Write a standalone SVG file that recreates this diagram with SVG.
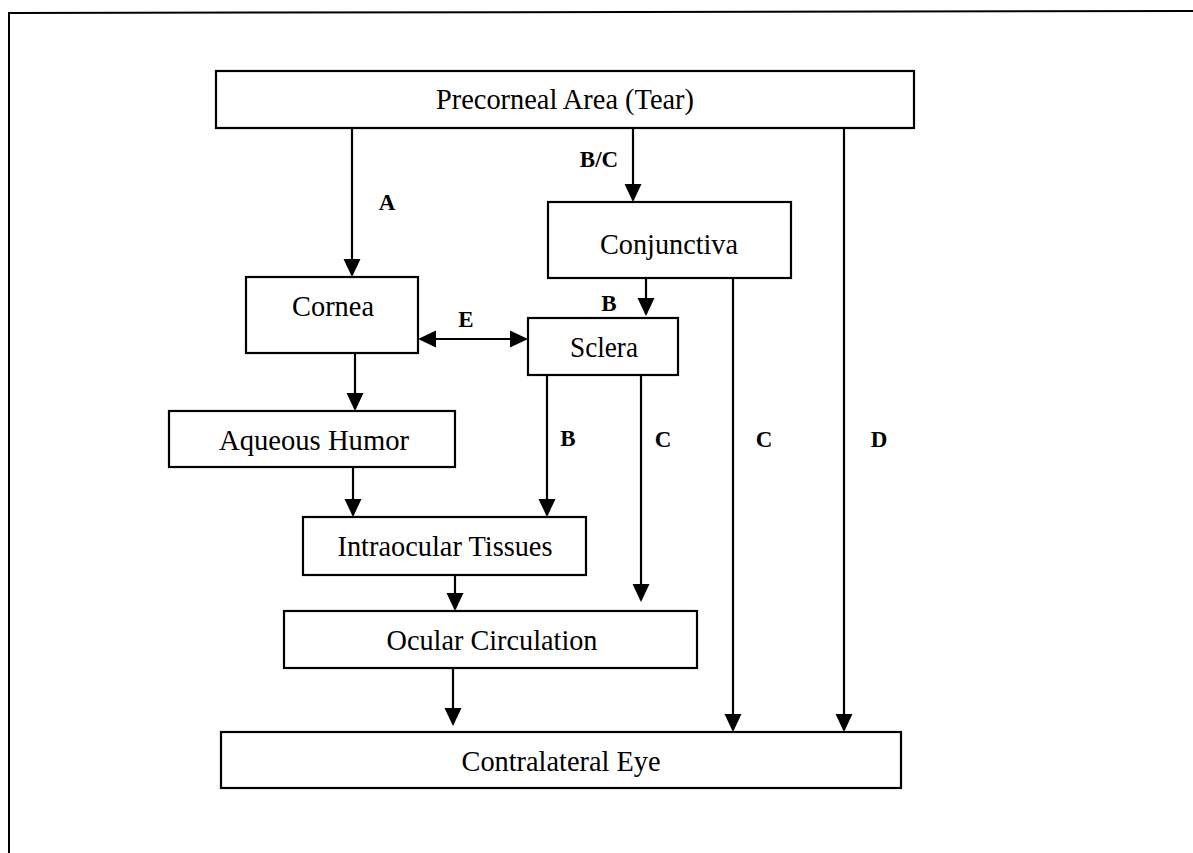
<svg xmlns="http://www.w3.org/2000/svg" width="1193" height="853" viewBox="0 0 1193 853">
<defs>
<style>
.box{fill:#fff;stroke:#000;stroke-width:2.2}
.t{font-family:"Liberation Serif","Times New Roman",serif;font-size:30px;fill:#000;text-anchor:middle}
.lbl{font-family:"Liberation Serif","Times New Roman",serif;font-size:23px;font-weight:bold;fill:#000;text-anchor:middle}
.c{stroke:#000;stroke-width:2.2;fill:none;marker-end:url(#ah)}
</style>
<marker id="ah" markerUnits="userSpaceOnUse" markerWidth="18" markerHeight="18" refX="16" refY="8.5" orient="auto-start-reverse" viewBox="0 0 18 17">
<path d="M0,0 L18,8.5 L0,17 Z" fill="#000"/>
</marker>
</defs>
<rect width="1193" height="853" fill="#fff"/>
<path d="M9,853 L9,13 L1193,11" fill="none" stroke="#000" stroke-width="2"/>

<g id="connectors">
<line class="c" x1="352" y1="128" x2="352" y2="275"/>
<line class="c" x1="633" y1="128" x2="633" y2="200"/>
<line class="c" x1="646" y1="278" x2="646" y2="314"/>
<line class="c" x1="420" y1="339" x2="526" y2="339" style="marker-start:url(#ah)"/>
<line class="c" x1="733" y1="278" x2="733" y2="730"/>
<line class="c" x1="844" y1="128" x2="844" y2="730"/>
<line class="c" x1="355" y1="353" x2="355" y2="409"/>
<line class="c" x1="353" y1="467" x2="353" y2="515"/>
<line class="c" x1="547" y1="375" x2="547" y2="515"/>
<line class="c" x1="641" y1="375" x2="641" y2="600"/>
<line class="c" x1="455" y1="575" x2="455" y2="609"/>
<line class="c" x1="453" y1="668" x2="453" y2="724"/>
<text class="lbl" x="387" y="210">A</text>
<text class="lbl" x="599" y="167">B/C</text>
<text class="lbl" x="609" y="311">B</text>
<text class="lbl" x="466" y="327">E</text>
<text class="lbl" x="568" y="446">B</text>
<text class="lbl" x="663" y="447">C</text>
<text class="lbl" x="764" y="447">C</text>
<text class="lbl" x="879" y="447">D</text>
</g>

<g id="precorneal"><rect class="box" x="216" y="71" width="698" height="57"/><text class="t" x="565" y="109" textLength="258" lengthAdjust="spacingAndGlyphs">Precorneal Area (Tear)</text></g>
<g id="conjunctiva"><rect class="box" x="548" y="202" width="243" height="76"/><text class="t" x="669" y="254" textLength="138" lengthAdjust="spacingAndGlyphs">Conjunctiva</text></g>
<g id="cornea"><rect class="box" x="246" y="277" width="172" height="76"/><text class="t" x="333" y="316" textLength="82" lengthAdjust="spacingAndGlyphs">Cornea</text></g>
<g id="sclera"><rect class="box" x="528" y="318" width="150" height="57"/><text class="t" x="604" y="357" textLength="68" lengthAdjust="spacingAndGlyphs">Sclera</text></g>
<g id="aqueous"><rect class="box" x="169" y="411" width="286" height="56"/><text class="t" x="314" y="450" textLength="190" lengthAdjust="spacingAndGlyphs">Aqueous Humor</text></g>
<g id="intraocular"><rect class="box" x="303" y="517" width="283" height="58"/><text class="t" x="445" y="556" textLength="215" lengthAdjust="spacingAndGlyphs">Intraocular Tissues</text></g>
<g id="ocular"><rect class="box" x="284" y="611" width="413" height="57"/><text class="t" x="492" y="650" textLength="211" lengthAdjust="spacingAndGlyphs">Ocular Circulation</text></g>
<g id="contralateral"><rect class="box" x="221" y="732" width="680" height="56"/><text class="t" x="561" y="771" textLength="199" lengthAdjust="spacingAndGlyphs">Contralateral Eye</text></g>
</svg>
